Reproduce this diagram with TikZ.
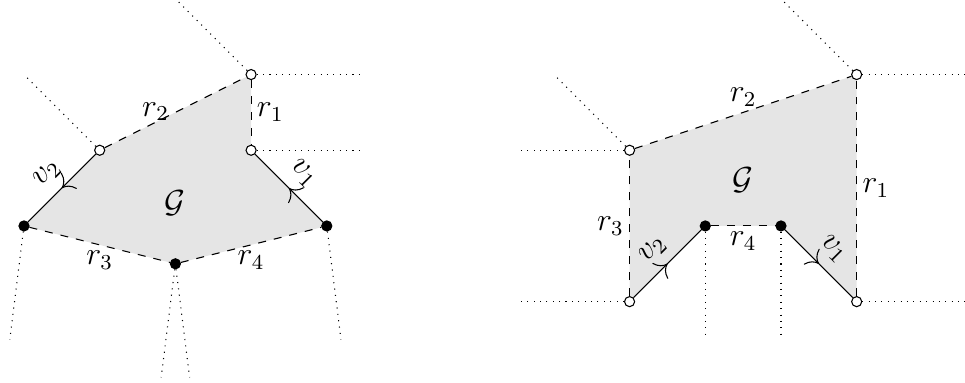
\documentclass[tikz,border=0pt]{standalone}
\usepackage{amsmath,amssymb}
\usetikzlibrary{arrows.meta,decorations.markings,backgrounds}

\begin{document}
\begin{tikzpicture}[
    every node/.style={font=\large},
    vtx/.style={circle, draw=black, line width=0.4pt, inner sep=0pt, minimum size=3.8pt},
    opendot/.style={vtx, fill=white},
    fulldot/.style={vtx, fill=black},
    ray/.style={dotted, line width=0.4pt},
    bnd/.style={dashed, line width=0.4pt},
    edg/.style={line width=0.4pt, postaction={decorate},
      decoration={markings, mark=at position 0.5 with {\arrow{Computer Modern Rightarrow[scale=1.6]}}}},
    region/.style={fill=black!10},
  ]

  \useasboundingbox (-0.317,-2.074) rectangle (12.431,2.985);
  \clip (-0.317,-2.074) rectangle (12.431,2.985);

  % =================== Left: hexagon ===================
  \node[opendot] (a1) at (3,2) {};
  \node[opendot] (b1) at (3,1) {};
  \node[opendot] (c1) at (1,1) {};
  \node[fulldot] (d1) at (0,0) {};
  \node[fulldot] (e1) at (2,-0.5) {};
  \node[fulldot] (f1) at (4,0) {};

  \begin{scope}[on background layer]
    \fill[region] (a1.center) -- (b1.center) -- (f1.center) -- (e1.center)
      -- (d1.center) -- (c1.center) -- cycle;
  \end{scope}

  \node (g1) at (2,0.3) {$\mathcal{G}$};

  \draw[bnd] (a1) -- (b1) node[midway, right, inner sep=2pt] {$r_1$};
  \draw[bnd] (c1) -- (a1) node[pos=0.36, above, yshift=-3pt] {$r_2$};
  \draw[bnd] (d1) -- (e1) node[midway, below, inner sep=2pt] {$r_3$};
  \draw[bnd] (e1) -- (f1) node[midway, below, inner sep=2pt] {$r_4$};
  \draw[edg] (f1) -- (b1) node[midway, sloped, above, inner sep=4pt] {$v_1$};
  \draw[edg] (c1) -- (d1) node[midway, sloped, above, inner sep=4pt] {$v_2$};

  % rays
  \draw[ray] (a1) -- ++(-1,1);
  \draw[ray] (a1) -- ++(1.5,0);
  \draw[ray] (b1) -- ++(1.5,0);
  \draw[ray] (c1) -- ++(-1,1);
  \draw[ray] (d1) -- ++(-0.1875,-1.5);
  \draw[ray] (e1) -- ++(-0.1875,-1.5);
  \draw[ray] (e1) -- ++(0.1875,-1.5);
  \draw[ray] (f1) -- ++(0.1875,-1.5);

  % =================== Right: notched polygon ===================
  \begin{scope}[shift={(8,-1)}]
    \node[opendot] (q2) at (0,2) {};
    \node[opendot] (r2) at (0,0) {};
    \node[fulldot] (s2) at (1,1) {};
    \node[fulldot] (t2) at (2,1) {};
    \node[opendot] (u2) at (3,0) {};
    \node[opendot] (p2) at (3,3) {};

    \begin{scope}[on background layer]
      \fill[region] (q2.center) -- (r2.center) -- (s2.center) -- (t2.center)
        -- (u2.center) -- (p2.center) -- cycle;
    \end{scope}

    \node (g2) at (1.5,1.6) {$\mathcal{G}$};

    \draw[bnd] (u2) -- (p2) node[midway, right, inner sep=2pt] {$r_1$};
    \draw[bnd] (q2) -- (p2) node[midway, above, inner sep=2pt] {$r_2$};
    \draw[bnd] (r2) -- (q2) node[midway, left, inner sep=2pt] {$r_3$};
    \draw[bnd] (s2) -- (t2) node[midway, below, inner sep=2pt] {$r_4$};
    \draw[edg] (t2) -- (u2) node[midway, sloped, above, inner sep=4pt] {$v_1$};
    \draw[edg] (r2) -- (s2) node[midway, sloped, above, inner sep=4pt] {$v_2$};

    % rays
    \draw[ray] (p2) -- ++(-1,1);
    \draw[ray] (p2) -- ++(1.5,0);
    \draw[ray] (q2) -- ++(-1,1);
    \draw[ray] (q2) -- ++(-1.5,0);
    \draw[ray] (r2) -- ++(-1.5,0);
    \draw[ray] (s2) -- ++(0,-1.5);
    \draw[ray] (t2) -- ++(0,-1.5);
    \draw[ray] (u2) -- ++(1.5,0);
  \end{scope}

\end{tikzpicture}
\end{document}
